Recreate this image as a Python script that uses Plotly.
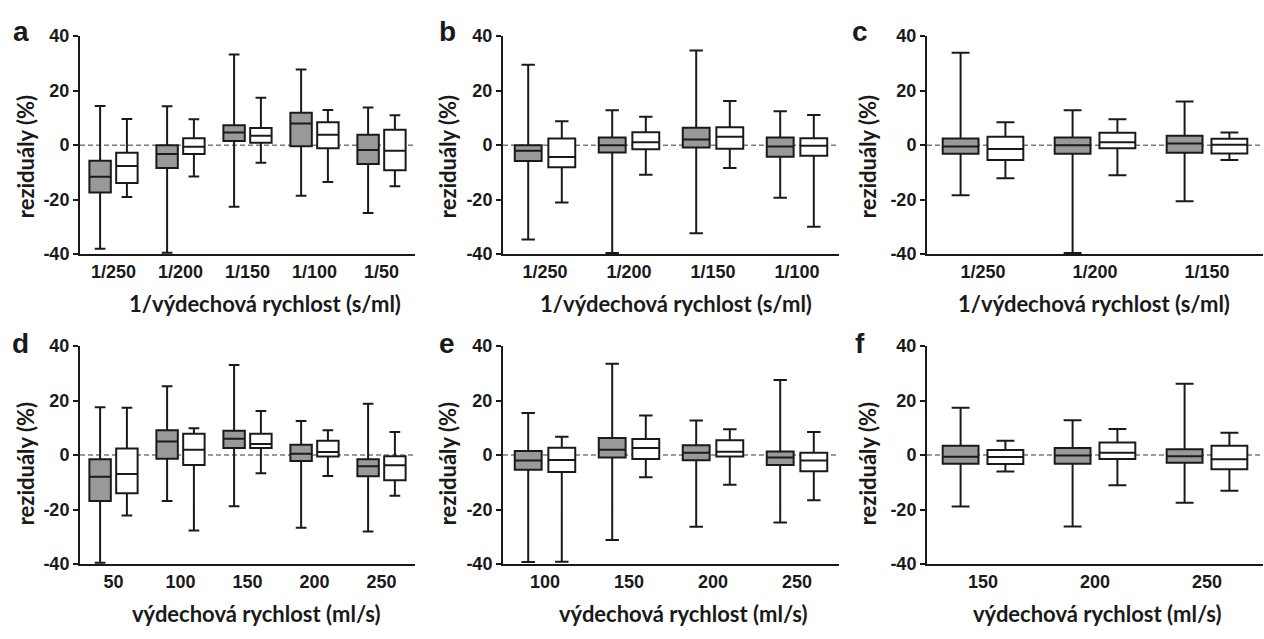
import plotly.graph_objects as go

W, H = 1264, 639

# ---------------- data ----------------
cats_a = ["1/250", "1/200", "1/150", "1/100", "1/50"]
a_gray = dict(lo=[-38.0, -39.5, -22.6, -18.6, -24.9], q1=[-17.4, -8.4, 1.5, -0.4, -6.9],
              med=[-11.6, -3.3, 4.6, 7.9, -1.8], q3=[-5.7, 0.0, 7.3, 11.9, 3.8], hi=[14.4, 14.3, 33.3, 27.8, 13.8])
a_white = dict(lo=[-19.0, -11.5, -6.5, -13.5, -15.1], q1=[-13.9, -3.3, 0.9, -1.1, -9.2],
               med=[-7.7, -0.6, 3.4, 3.8, -2.1], q3=[-2.8, 2.5, 6.3, 8.4, 5.6], hi=[9.6, 9.5, 17.4, 12.9, 11.0])

cats_b = ["1/250", "1/200", "1/150", "1/100"]
b_gray = dict(lo=[-34.6, -39.6, -32.3, -19.3], q1=[-5.8, -2.7, -0.9, -4.3],
              med=[-2.1, 0.0, 2.1, -0.5], q3=[0.0, 2.8, 6.4, 2.8], hi=[29.5, 12.8, 34.7, 12.4])
b_white = dict(lo=[-21.1, -10.9, -8.4, -30.0], q1=[-8.1, -1.5, -1.3, -3.9],
               med=[-4.4, 1.1, 3.1, -0.2], q3=[2.4, 4.7, 6.6, 2.5], hi=[8.8, 10.4, 16.2, 11.1])

cats_c = ["1/250", "1/200", "1/150"]
c_gray = dict(lo=[-18.4, -39.6, -20.6], q1=[-3.2, -3.2, -2.8],
              med=[-0.5, 0.0, 0.6], q3=[2.4, 2.8, 3.4], hi=[33.9, 12.8, 16.0])
c_white = dict(lo=[-12.2, -11.1, -5.5], q1=[-5.5, -1.1, -3.1],
               med=[-1.4, 1.1, 0.1], q3=[3.1, 4.5, 2.3], hi=[8.4, 9.5, 4.6])

cats_d = ["50", "100", "150", "200", "250"]
d_gray = dict(lo=[-39.5, -16.8, -18.8, -26.7, -28.0], q1=[-16.8, -1.3, 2.6, -2.2, -7.8],
              med=[-7.9, 5.0, 6.0, 0.5, -4.1], q3=[-1.5, 9.1, 8.9, 3.8, -1.5], hi=[17.6, 25.3, 33.1, 12.5, 18.9])
d_white = dict(lo=[-22.2, -27.7, -6.7, -7.7, -14.9], q1=[-14.0, -3.6, 2.6, -0.5, -9.2],
               med=[-6.9, 2.0, 4.1, 1.1, -3.7], q3=[2.4, 7.8, 7.8, 5.3, -0.4], hi=[17.4, 9.9, 16.2, 9.1, 8.5])

cats_e = ["100", "150", "200", "250"]
e_gray = dict(lo=[-39.2, -31.2, -26.3, -24.7], q1=[-5.4, -0.9, -1.9, -3.6],
              med=[-2.0, 2.0, 0.9, -0.9], q3=[1.5, 6.3, 3.6, 1.3], hi=[15.5, 33.5, 12.7, 27.6])
e_white = dict(lo=[-39.1, -8.1, -10.9, -16.6], q1=[-6.2, -1.4, -0.5, -5.9],
               med=[-1.8, 2.6, 1.2, -2.0], q3=[2.7, 5.9, 5.5, 0.9], hi=[6.7, 14.5, 9.5, 8.5])

cats_f = ["150", "200", "250"]
f_gray = dict(lo=[-18.9, -26.2, -17.5], q1=[-3.2, -3.2, -2.8],
              med=[-0.6, -0.1, -0.4], q3=[3.4, 2.6, 2.2], hi=[17.4, 12.8, 26.2])
f_white = dict(lo=[-6.0, -11.1, -13.1], q1=[-3.3, -1.4, -5.2],
               med=[-0.7, 0.9, -1.5], q3=[1.9, 4.6, 3.4], hi=[5.3, 9.6, 8.2])

panel_letters = ["a", "b", "c", "d", "e", "f"]
y_title = "reziduály (%)"
x_title_top = "1/výdechová rychlost (s/ml)"
x_title_bottom = "výdechová rychlost (ml/s)"
y_ticks = [-40, -20, 0, 20, 40]

# ---------------- layout geometry (pixels) ----------------
def px(x):
    return x / W

def py(y):
    return 1 - y / H

col_dom = [(80, 415), (503, 839), (927, 1263)]
row_dom = [(27, 252), (347, 572)]

INK = "#1a1a1a"
GRAY = "#999999"

panels = [
    (cats_a, a_gray, a_white),
    (cats_b, b_gray, b_white),
    (cats_c, c_gray, c_white),
    (cats_d, d_gray, d_white),
    (cats_e, e_gray, e_white),
    (cats_f, f_gray, f_white),
]

fig = go.Figure()
layout = dict(
    width=W, height=H, margin=dict(l=0, r=0, t=0, b=0),
    paper_bgcolor="white", plot_bgcolor="white",
    showlegend=False, boxmode="group", boxgap=0.2, boxgroupgap=0.2,
)

tick_font = dict(family="Liberation Sans", size=18, color=INK, weight="bold")
shapes = []
annotations = []
for i, (cats, g, wt) in enumerate(panels):
    r, c = divmod(i, 3)
    n = i + 1
    xa = "x" if n == 1 else f"x{n}"
    ya = "y" if n == 1 else f"y{n}"
    for k, (s, fill) in enumerate([(g, GRAY), (wt, "white")]):
        fig.add_trace(go.Box(
            x=cats, q1=s["q1"], median=s["med"], q3=s["q3"],
            lowerfence=s["lo"], upperfence=s["hi"],
            fillcolor=fill, line=dict(color=INK, width=2),
            whiskerwidth=0.5, boxpoints=False, offsetgroup=str(k),
            xaxis=xa, yaxis=ya, hoverinfo="skip",
        ))
    xkey = "xaxis" if n == 1 else f"xaxis{n}"
    ykey = "yaxis" if n == 1 else f"yaxis{n}"
    x0, x1 = col_dom[c]
    y0, y1 = row_dom[r]
    layout[xkey] = dict(
        domain=[px(x0), px(x1)], anchor=ya, type="category",
        range=[-0.5, len(cats) - 0.5], showline=True, linecolor=INK, linewidth=2,
        ticks="", showgrid=False, zeroline=False, tickfont=tick_font,
        fixedrange=True,
    )
    layout[ykey] = dict(
        domain=[py(y1), py(y0)], anchor=xa, range=[-40, 40],
        tickvals=y_ticks, ticktext=[str(v) for v in y_ticks],
        showline=True, linecolor=INK, linewidth=2, ticks="outside", ticklen=5,
        tickwidth=2, tickcolor=INK, showgrid=False, zeroline=False,
        tickfont=tick_font, fixedrange=True,
    )
    shapes.append(dict(
        type="line", xref=f"{xa} domain", yref=ya, x0=0, x1=1, y0=0, y1=0,
        line=dict(color="#7a7a7a", width=1.5, dash="5px,3px"), layer="below",
    ))

# titles and panel letters
xt_centers = [[265, 676, 1094], [256, 683, 1097]]
xt_y = [303, 623]
yt_x = [25, 447, 867]
yt_y = [152, 469]
letter_x = [21, 447, 860]
letter_y = [22, 344]
title_font = dict(family="Lato", size=22, color=INK, weight="bold")
for r in range(2):
    for c in range(3):
        annotations.append(dict(
            text=x_title_top if r == 0 else x_title_bottom,
            x=px(xt_centers[r][c]), y=py(xt_y[r]), xref="paper", yref="paper",
            xanchor="center", yanchor="middle", showarrow=False, font=title_font,
        ))
        annotations.append(dict(
            text=y_title, textangle=-90,
            x=px(yt_x[c]), y=py(yt_y[r]), xref="paper", yref="paper",
            xanchor="center", yanchor="middle", showarrow=False, font=title_font,
        ))
        annotations.append(dict(
            text=panel_letters[r * 3 + c],
            x=px(letter_x[c]), y=py(letter_y[r]), xref="paper", yref="paper",
            xanchor="center", yanchor="middle", showarrow=False,
            font=dict(family="Liberation Sans", size=28, color=INK, weight="bold"),
        ))

layout["shapes"] = shapes
layout["annotations"] = annotations
fig.update_layout(**layout)
fig.write_html("out.html", config=dict(displayModeBar=False))
